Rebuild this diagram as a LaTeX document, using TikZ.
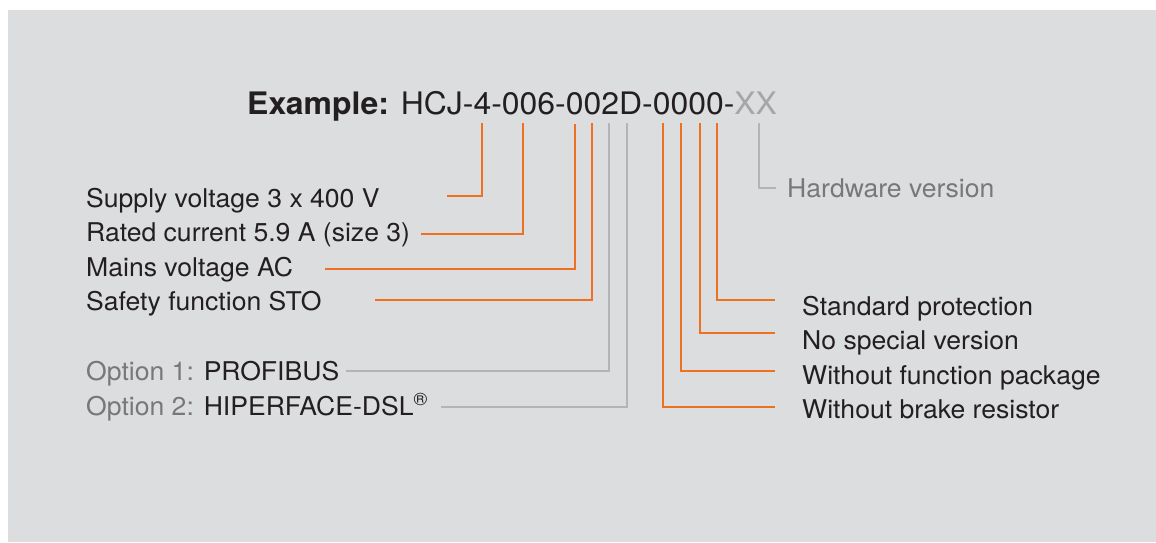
\documentclass[tikz,border=0pt]{standalone}
\usepackage{fontspec}
\setmainfont[FakeStretch=1.03]{TeX Gyre Heros}
\usepackage{tikz}
\usetikzlibrary{calc}
\definecolor{hcjbg}{HTML}{DCDDDF}
\definecolor{hcjink}{HTML}{231F20}
\definecolor{hcjkey}{HTML}{F07022}
\definecolor{hcjopt}{HTML}{B3B4B6}
\definecolor{hcjsec}{HTML}{76787A}
\definecolor{hcjxx}{HTML}{A5A6A8}
\newcommand{\lblfont}{\fontsize{25.8}{30}\selectfont}
\newcommand{\codefont}{\fontsize{31}{36}\selectfont}
\tikzset{
  lbl/.style={anchor=base west,inner sep=0pt,font=\lblfont,text=hcjink},
  keyline/.style={draw=hcjkey,line width=2pt},
  optline/.style={draw=hcjopt,line width=2pt},
}

\begin{document}
\begin{tikzpicture}[x=1pt,y=-1pt]
  \useasboundingbox (0,0) rectangle (1156,542);
  \fill[hcjbg] (8,10) rectangle (1156,542);

  % ---- type code ----
  \node[lbl,font=\codefont] (code) at (247,114)
    {\textbf{Example:} HCJ-4-006-002D-0000-\textcolor{hcjxx}{XX}};

  % ---- left key ----
  \node[lbl] (supply) at (86,207)   {Supply voltage 3 x 400 V};
  \node[lbl] (rated)  at (86,241.5) {Rated current 5.9 A (size 3)};
  \node[lbl] (mains)  at (86,276)   {Mains voltage AC};
  \node[lbl] (safety) at (86,310.5) {Safety function STO};
  \node[lbl] (opt1)   at (86,380)   {\textcolor{hcjsec}{Option 1:} PROFIBUS};
  \node[lbl] (opt2)   at (86,415)   {\textcolor{hcjsec}{Option 2:} HIPERFACE-DSL\textsuperscript{®}};

  % ---- right key ----
  \node[lbl,text=hcjsec] (hw) at (787,197.7) {Hardware version};
  \node[lbl] (prot)   at (802,315)   {Standard protection};
  \node[lbl] (spec)   at (802,349.5) {No special version};
  \node[lbl] (func)   at (802,384)   {Without function package};
  \node[lbl] (brake)  at (802,418.5) {Without brake resistor};

  % ---- tops of the leader lines (under the code) ----
  \coordinate (t1) at (482,123);  \coordinate (t2) at (523,123);
  \coordinate (t3) at (575,124);  \coordinate (t4) at (592,123);
  \coordinate (t5) at (609,123);  \coordinate (t6) at (627,123);
  \coordinate (t7) at (663,123);  \coordinate (t8) at (681,123);
  \coordinate (t9) at (700,123);  \coordinate (t10) at (717,123);
  \coordinate (t11) at (759,123);

  % ---- free ends next to the labels ----
  \coordinate (e1) at (447,195.7);  \coordinate (e2) at (421,233.7);
  \coordinate (e3) at (325,269);    \coordinate (e4) at (375,300);
  \coordinate (e5) at (346,370.7);  \coordinate (e6) at (441,407.3);
  \coordinate (e7) at (775,407.3);  \coordinate (e8) at (775,371);
  \coordinate (e9) at (775,333.3);  \coordinate (e10) at (775,300);
  \coordinate (e11) at (776,188.3);

  % ---- leaders ----
  \foreach \i in {1,2,3,4,7,8,9,10}{
    \draw[keyline] (t\i) |- (e\i);}
  \foreach \i in {5,6,11}{
    \draw[optline] (t\i) |- (e\i);}
\end{tikzpicture}
\end{document}
